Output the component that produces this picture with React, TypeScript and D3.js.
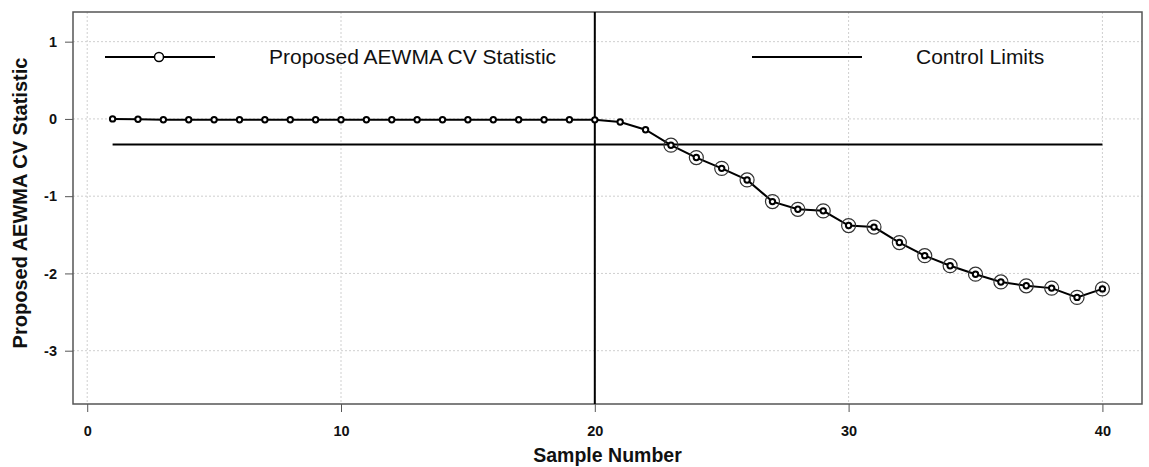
import React, { useEffect, useRef } from 'react';
import * as d3 from 'd3';

// sample numbers 1..40 and the AEWMA CV statistic
const samples = [
  1, 2, 3, 4, 5, 6, 7, 8, 9, 10, 11, 12, 13, 14, 15, 16, 17, 18, 19, 20,
  21, 22, 23, 24, 25, 26, 27, 28, 29, 30, 31, 32, 33, 34, 35, 36, 37, 38, 39, 40,
];
const statistic = [
  0, -0.005, -0.01, -0.01, -0.01, -0.01, -0.01, -0.01, -0.01, -0.01,
  -0.01, -0.01, -0.01, -0.01, -0.01, -0.01, -0.01, -0.01, -0.01, -0.012,
  -0.04, -0.14, -0.34, -0.5, -0.64, -0.79, -1.07, -1.17, -1.19, -1.38,
  -1.4, -1.6, -1.77, -1.9, -2.01, -2.11, -2.16, -2.19, -2.31, -2.2,
];
const controlLimit = -0.33;
const changePoint = 20;
const xTicks = [0, 10, 20, 30, 40];
const yTicks = [1, 0, -1, -2, -3];
const legendLabels = ['Proposed AEWMA CV Statistic', 'Control Limits'];

export default function App() {
  const svgRef = useRef<SVGSVGElement>(null);

  useEffect(() => {
    const svg = d3.select(svgRef.current);
    svg.selectAll('*').remove();
    const width = 1149;
    const height = 467;
    const margin = { top: 12, right: 7, bottom: 63, left: 73 };
    const font = 'Liberation Sans, Arial, sans-serif';

    const x = d3.scaleLinear().domain([-0.56, 41.56]).range([margin.left, width - margin.right]);
    const y = d3.scaleLinear().domain([-3.69, 1.384]).range([height - margin.bottom, margin.top]);

    // grid
    svg.append('g')
      .selectAll('line')
      .data(xTicks)
      .enter()
      .append('line')
      .attr('x1', (d) => x(d)).attr('x2', (d) => x(d))
      .attr('y1', margin.top).attr('y2', height - margin.bottom)
      .attr('stroke', '#cfcfcf').attr('stroke-dasharray', '2,2');
    svg.append('g')
      .selectAll('line')
      .data(yTicks)
      .enter()
      .append('line')
      .attr('x1', margin.left).attr('x2', width - margin.right)
      .attr('y1', (d) => y(d)).attr('y2', (d) => y(d))
      .attr('stroke', '#cfcfcf').attr('stroke-dasharray', '2,2');

    // axes
    const fmt = (d: d3.NumberValue) => String(d);
    const xAxis = svg.append('g')
      .attr('transform', `translate(0,${height - margin.bottom})`)
      .call(d3.axisBottom(x).tickValues(xTicks).tickFormat(fmt).tickSize(8).tickPadding(14));
    const yAxis = svg.append('g')
      .attr('transform', `translate(${margin.left},0)`)
      .call(d3.axisLeft(y).tickValues(yTicks).tickFormat(fmt).tickSize(8).tickPadding(8));
    [xAxis, yAxis].forEach((a) => {
      a.select('.domain').remove();
      a.selectAll('line').attr('stroke', '#555');
      a.selectAll('text')
        .attr('font-family', font).attr('font-size', 14.5).attr('font-weight', 'bold').attr('fill', '#111');
    });

    // box
    svg.append('rect')
      .attr('x', margin.left).attr('y', margin.top)
      .attr('width', width - margin.left - margin.right)
      .attr('height', height - margin.top - margin.bottom)
      .attr('fill', 'none').attr('stroke', '#555').attr('stroke-width', 1.5);

    // change point & control limit
    svg.append('line')
      .attr('x1', x(changePoint)).attr('x2', x(changePoint))
      .attr('y1', margin.top).attr('y2', height - margin.bottom)
      .attr('stroke', '#000').attr('stroke-width', 2);
    svg.append('line')
      .attr('x1', x(samples[0])).attr('x2', x(samples[samples.length - 1]))
      .attr('y1', y(controlLimit)).attr('y2', y(controlLimit))
      .attr('stroke', '#000').attr('stroke-width', 2);

    // statistic line
    const line = d3.line<number>().x((d, i) => x(samples[i])).y((d) => y(d));
    svg.append('path')
      .datum(statistic)
      .attr('d', line)
      .attr('fill', 'none').attr('stroke', '#000').attr('stroke-width', 2);

    // out-of-control rings
    svg.append('g')
      .selectAll('circle')
      .data(statistic.map((v, i) => ({ v, s: samples[i] })).filter((d) => d.v < controlLimit))
      .enter()
      .append('circle')
      .attr('cx', (d) => x(d.s)).attr('cy', (d) => y(d.v)).attr('r', 7)
      .attr('fill', 'none').attr('stroke', '#333').attr('stroke-width', 1.2);

    svg.append('g')
      .selectAll('circle')
      .data(statistic)
      .enter()
      .append('circle')
      .attr('cx', (d, i) => x(samples[i])).attr('cy', (d) => y(d)).attr('r', 2.7)
      .attr('fill', '#fff').attr('stroke', '#000').attr('stroke-width', 2);

    // legend
    const ly = 57;
    svg.append('line').attr('x1', 105).attr('x2', 215).attr('y1', ly).attr('y2', ly)
      .attr('stroke', '#000').attr('stroke-width', 2);
    svg.append('circle').attr('cx', 159).attr('cy', ly).attr('r', 4.5)
      .attr('fill', '#fff').attr('stroke', '#000').attr('stroke-width', 1.5);
    svg.append('text').attr('x', 269).attr('y', ly).attr('dy', '0.35em')
      .attr('font-family', font).attr('font-size', 21).attr('fill', '#111').text(legendLabels[0]);
    svg.append('line').attr('x1', 752).attr('x2', 862).attr('y1', ly).attr('y2', ly)
      .attr('stroke', '#000').attr('stroke-width', 2);
    svg.append('text').attr('x', 916).attr('y', ly).attr('dy', '0.35em')
      .attr('font-family', font).attr('font-size', 21).attr('fill', '#111').text(legendLabels[1]);

    // axis titles
    svg.append('text')
      .attr('x', (margin.left + width - margin.right) / 2).attr('y', 462)
      .attr('text-anchor', 'middle')
      .attr('font-family', font).attr('font-size', 19.5).attr('font-weight', 'bold').attr('fill', '#111')
      .text('Sample Number');
    svg.append('text')
      .attr('transform', 'translate(27,203) rotate(-90)')
      .attr('text-anchor', 'middle')
      .attr('font-family', font).attr('font-size', 20).attr('font-weight', 'bold').attr('fill', '#111')
      .text('Proposed AEWMA CV Statistic');
  }, []);

  return (
    <svg
      ref={svgRef}
      width={1149}
      height={467}
      style={{ position: 'absolute', left: 0, top: 0, background: '#fff' }}
    />
  );
}
